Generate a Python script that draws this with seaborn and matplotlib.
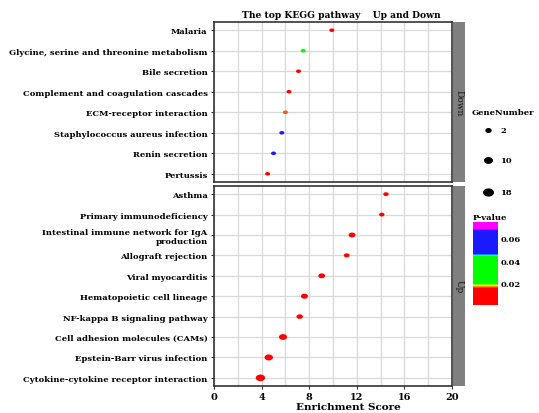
import matplotlib
matplotlib.use('Agg')
from matplotlib import pyplot as plt
from matplotlib.colors import LinearSegmentedColormap, Normalize
from matplotlib.path import Path
from matplotlib.lines import Line2D
import matplotlib.colorbar as mcolorbar
import seaborn as sns
import pandas as pd
import numpy as np

# Down-regulated pathways (top to bottom)
down_terms = ['Malaria', 'Glycine, serine and threonine metabolism', 'Bile secretion',
              'Complement and coagulation cascades', 'ECM-receptor interaction',
              'Staphylococcus aureus infection', 'Renin secretion', 'Pertussis']
down_score = [9.9, 7.5, 7.1, 6.3, 6.0, 5.7, 5.0, 4.5]
down_genes = [2, 2, 2, 2, 2, 2, 2, 2]
down_pval = [0.005, 0.03, 0.006, 0.007, 0.016, 0.05, 0.058, 0.005]

# Up-regulated pathways (top to bottom)
up_terms = ['Asthma', 'Primary immunodeficiency',
            'Intestinal immune network for IgA\nproduction', 'Allograft rejection',
            'Viral myocarditis', 'Hematopoietic cell lineage', 'NF-kappa B signaling pathway',
            'Cell adhesion molecules (CAMs)', 'Epstein-Barr virus infection',
            'Cytokine-cytokine receptor interaction']
up_score = [14.45, 14.1, 11.6, 11.15, 9.05, 7.6, 7.2, 5.8, 4.6, 3.9]
up_genes = [3, 3, 7, 4, 7, 8, 6, 12, 13, 17]
up_pval = [0.001, 0.001, 0.0005, 0.001, 0.0005, 0.0005, 0.001, 0.0003, 0.0003, 0.0001]

legend_sizes = [2, 10, 18]
cbar_ticks = [0.02, 0.04, 0.06]
x_ticks = [0, 4, 8, 12, 16, 20]

FONT = 'DejaVu Serif'
plt.rcParams['font.family'] = [FONT, 'Liberation Serif']
plt.rcParams['font.weight'] = 'bold'

cmap = LinearSegmentedColormap.from_list('pv', [
    (0.0, '#ff0000'), (0.2, '#ff0000'), (0.235, '#ffff00'), (0.26, '#00ff00'),
    (0.585, '#00ff00'), (0.6, '#00ffff'), (0.615, '#1a1aff'), (0.89, '#1a1aff'),
    (0.92, '#ff00ff'), (1.0, '#ff00ff')])
pnorm = Normalize(0.0, 0.075)
SIZES = (13, 47)
SNORM = (2, 18)

# slightly wide ellipse, the reference is stretched horizontally
t = np.linspace(0, 2 * np.pi, 40)
ell = Path(np.column_stack([1.4 * np.cos(t), np.sin(t)]), closed=True)

W, H = 539, 414
fig = plt.figure(figsize=(W / 100, H / 100), dpi=100)

def fx(px):
    return px / W

def fy(py):
    return 1 - py / H

x0, x1 = 214, 452
panels = [('Down', down_terms, down_score, down_genes, down_pval, 23, 183),
          ('Up', up_terms, up_score, up_genes, up_pval, 187, 387)]

for name, terms, score, genes, pval, top, bot in panels:
    ax = fig.add_axes([fx(x0), fy(bot), fx(x1) - fx(x0), fy(top) - fy(bot)])
    df = pd.DataFrame({'term': terms, 'score': score, 'genes': genes, 'pval': pval})
    sns.scatterplot(data=df, x='score', y='term', hue='pval', size='genes',
                    palette=cmap, hue_norm=pnorm, sizes=SIZES, size_norm=SNORM,
                    marker=ell, linewidth=0, legend=False, ax=ax, zorder=3)
    n = len(terms)
    ax.set_ylim(n - 1 + 0.4, -0.4)
    ax.set_xlim(0, 20)
    ax.set_xticks(x_ticks)
    ax.set_xticks([2, 6, 10, 14, 18], minor=True)
    ax.grid(True, which='both', color='#d9d9d9', linewidth=0.9, zorder=0)
    ax.set_axisbelow(True)
    ax.set_xlabel('')
    ax.set_ylabel('')
    for s in ax.spines.values():
        s.set_linewidth(1.2)
        s.set_color('#333333')
    ax.tick_params(axis='both', which='major', length=2.5, width=0.8, color='#333333',
                   labelsize=6.0, pad=2)
    ax.tick_params(axis='x', which='minor', length=0)
    ax.tick_params(axis='x', labelsize=7)
    if name == 'Down':
        ax.tick_params(axis='x', labelbottom=False, length=0)
    for lab in ax.get_yticklabels() + ax.get_xticklabels():
        lab.set_fontweight('bold')
    # facet strip on the right
    sax = fig.add_axes([fx(x1 + 1), fy(bot), fx(465) - fx(x1 + 1), fy(top) - fy(bot)])
    sax.set_facecolor('#7f7f7f')
    sax.set_xticks([])
    sax.set_yticks([])
    for s in sax.spines.values():
        s.set_visible(False)
    sax.text(0.5, 0.5, name, rotation=-90, ha='center', va='center', fontsize=6.5,
             fontweight='normal', transform=sax.transAxes, color='#1a1a1a')

fig.text(fx(341), fy(15), 'The top KEGG pathway    Up and Down', ha='center', va='center',
         fontsize=6.6, fontweight='bold')
fig.text(fx(348), fy(408), 'Enrichment Score', ha='center', va='center',
         fontsize=7.5, fontweight='bold')

# size legend
fig.text(fx(472), fy(113), 'GeneNumber', ha='left', va='center', fontsize=6, fontweight='bold')
for g, ypx in zip(legend_sizes, [131, 161, 193]):
    s = SIZES[0] + (g - SNORM[0]) * (SIZES[1] - SIZES[0]) / (SNORM[1] - SNORM[0])
    fig.add_artist(Line2D([fx(488)], [fy(ypx)], marker=ell, markersize=np.sqrt(s),
                          color='black', linestyle='none', transform=fig.transFigure))
    fig.text(fx(500), fy(ypx), str(g), ha='left', va='center', fontsize=6, fontweight='bold')

# p-value colour bar
fig.text(fx(473), fy(218), 'P-value', ha='left', va='center', fontsize=6, fontweight='bold')
cax = fig.add_axes([fx(473), fy(306), fx(498) - fx(473), fy(222.7) - fy(306)])
cb = mcolorbar.ColorbarBase(cax, cmap=cmap, norm=pnorm, orientation='vertical')
cb.set_ticks(cbar_ticks)
cb.set_ticklabels(['0.02', '0.04', '0.06'])
cb.outline.set_visible(False)
cax.tick_params(length=0, labelsize=6, pad=2)
for lab in cax.get_yticklabels():
    lab.set_fontweight('bold')

plt.savefig('out.png', dpi=100)
